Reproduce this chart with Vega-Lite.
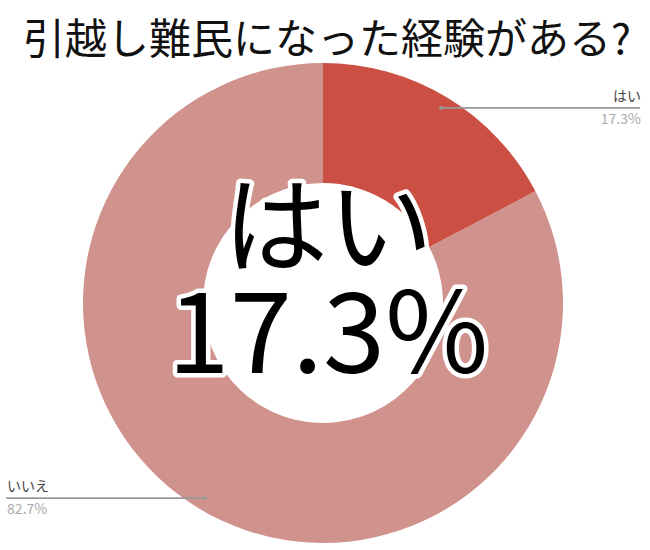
{
  "$schema": "https://vega.github.io/schema/vega-lite/v6.json",
  "width": 646,
  "height": 480,
  "autosize": "none",
  "padding": {"left": 0, "right": 4, "top": 63, "bottom": 7},
  "background": "white",
  "title": {
    "text": "引越し難民になった経験がある?",
    "font": "Noto Sans CJK JP",
    "fontSize": 42,
    "fontWeight": "normal",
    "color": "#111111",
    "anchor": "middle",
    "offset": 0,
    "dx": 4
  },
  "config": {"view": {"stroke": null}},
  "data": {
    "values": [
      {"label": "はい", "value": 17.3, "pct": "17.3%"},
      {"label": "いいえ", "value": 82.7, "pct": "82.7%"}
    ]
  },
  "layer": [
    {
      "mark": {"type": "arc", "radius": 240, "innerRadius": 120},
      "encoding": {
        "theta": {"field": "value", "type": "quantitative", "stack": true},
        "order": {"field": "value", "sort": "ascending"},
        "color": {
          "field": "label",
          "type": "nominal",
          "scale": {"domain": ["はい", "いいえ"], "range": ["#CB4F42", "#D0928C"]},
          "legend": null
        }
      }
    },
    {
      "transform": [
        {"stack": "value", "groupby": [], "sort": [{"field": "value", "order": "ascending"}], "as": ["v0", "v1"]},
        {"calculate": "sin((datum.v0 + datum.v1) * PI / 100)", "as": "sx"},
        {"calculate": "cos((datum.v0 + datum.v1) * PI / 100)", "as": "sy"}
      ],
      "layer": [
        {
          "mark": {"type": "point", "filled": false, "color": "#999999", "strokeWidth": 1.6, "size": 39601, "opacity": 1},
          "encoding": {
            "x": {"field": "sx", "type": "quantitative", "scale": {"domain": [-1.41667, 1.41667]}, "axis": null},
            "y": {"field": "sy", "type": "quantitative", "scale": {"domain": [-1.05263, 1.05263]}, "axis": null},
            "shape": {
              "field": "label",
              "type": "nominal",
              "scale": {"domain": ["はい", "いいえ"], "range": ["M0,0L2,0", "M0,0L-2,0"]},
              "legend": null
            }
          }
        },
        {
          "mark": {"type": "point", "filled": true, "color": "#999999", "size": 14, "opacity": 1},
          "encoding": {
            "x": {"field": "sx", "type": "quantitative", "scale": {"domain": [-1.41667, 1.41667]}, "axis": null},
            "y": {"field": "sy", "type": "quantitative", "scale": {"domain": [-1.05263, 1.05263]}, "axis": null}
          }
        }
      ]
    },
    {
      "mark": {
        "type": "text", "radius": 228, "font": "Noto Sans CJK JP", "fontSize": 14, "color": "#444444",
        "baseline": "middle", "dy": -11,
        "align": {"expr": "datum.label === 'はい' ? 'right' : 'left'"},
        "dx": {"expr": "datum.label === 'はい' ? 200 : -198"}
      },
      "encoding": {
        "theta": {"field": "value", "type": "quantitative", "stack": true},
        "order": {"field": "value", "sort": "ascending"},
        "text": {"field": "label"}
      }
    },
    {
      "mark": {
        "type": "text", "radius": 228, "font": "Noto Sans CJK JP", "fontSize": 14, "color": "#aaaaaa",
        "baseline": "middle", "dy": 12,
        "align": {"expr": "datum.label === 'はい' ? 'right' : 'left'"},
        "dx": {"expr": "datum.label === 'はい' ? 200 : -198"}
      },
      "encoding": {
        "theta": {"field": "value", "type": "quantitative", "stack": true},
        "order": {"field": "value", "sort": "ascending"},
        "text": {"field": "pct"}
      }
    },
    {
      "transform": [{"filter": "datum.label === 'はい'"}],
      "mark": {"type": "text", "font": "Noto Sans CJK JP", "fontSize": 105, "baseline": "middle", "dx": 5, "dy": -71, "fill": "white", "stroke": "white", "strokeWidth": 9, "strokeJoin": "round"},
      "encoding": {"text": {"field": "label"}}
    },
    {
      "transform": [{"filter": "datum.label === 'はい'"}],
      "mark": {"type": "text", "font": "Noto Sans CJK JP", "fontSize": 105, "baseline": "middle", "dx": 5, "dy": -71, "fill": "black"},
      "encoding": {"text": {"field": "label"}}
    },
    {
      "transform": [{"filter": "datum.label === 'はい'"}],
      "mark": {"type": "text", "font": "Noto Sans CJK JP", "fontSize": 112, "baseline": "middle", "dx": 5, "dy": 36, "fill": "white", "stroke": "white", "strokeWidth": 9, "strokeJoin": "round"},
      "encoding": {"text": {"field": "pct"}}
    },
    {
      "transform": [{"filter": "datum.label === 'はい'"}],
      "mark": {"type": "text", "font": "Noto Sans CJK JP", "fontSize": 112, "baseline": "middle", "dx": 5, "dy": 36, "fill": "black"},
      "encoding": {"text": {"field": "pct"}}
    }
  ]
}
